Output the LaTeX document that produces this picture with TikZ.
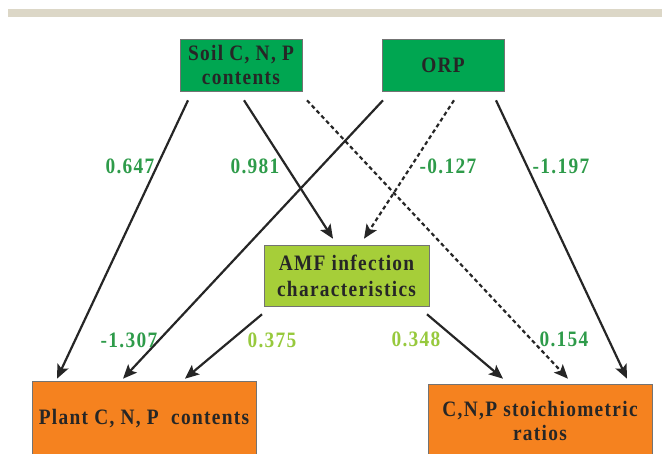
\documentclass[tikz,border=0pt]{standalone}
\usepackage{fontspec}
\newfontfamily\diagfont{Liberation Serif}[FakeStretch=0.88, LetterSpace=6]
\usetikzlibrary{arrows.meta,calc}
\definecolor{rulegray}{HTML}{DCD7C7}
\definecolor{boxgreen}{HTML}{00A651}
\definecolor{boxlime}{HTML}{A6CE39}
\definecolor{boxorange}{HTML}{F5821F}
\definecolor{coefdark}{HTML}{2E9B4A}
\definecolor{coeflight}{HTML}{97C93D}
\tikzset{
  box/.style={draw=black!55, line width=0.6pt, text=black!85, align=center, inner sep=0pt,
    font=\diagfont\bfseries\fontsize{22}{24}\selectfont},
  arr/.style={line width=2.2pt, draw=black!85, -{Stealth[length=14pt,width=12pt,inset=3pt]}},
  arrdash/.style={arr, dash pattern=on 4pt off 3pt},
  coef/.style={font=\diagfont\bfseries\fontsize{22}{24}\selectfont}
}

\begin{document}
\begin{tikzpicture}[x=1pt,y=-1pt]
  \useasboundingbox (0,0) rectangle (662,453);
  % top rule
  \fill[rulegray] (8,9) rectangle (662,17);
  % boxes
  \node[box, fill=boxgreen, minimum width=122pt, minimum height=52pt] (soil) at (241,65) {Soil C, N, P\\contents};
  \node[box, fill=boxgreen, minimum width=122pt, minimum height=52pt] (orp) at (443,65) {ORP};
  \node[box, fill=boxlime, minimum width=165pt, minimum height=61pt] (amf) at (346.5,275.5) {AMF infection\\[2pt]characteristics};
  \node[box, fill=boxorange, minimum width=224pt, minimum height=76pt] (plant) at (144,419) {Plant C, N, P~~contents};
  \node[box, fill=boxorange, minimum width=224pt, minimum height=74pt] (ratio) at (540,421) {C,N,P stoichiometric\\ratios};
  % paths from soil
  \draw[arr] ($(soil.south)+(-53,9)$) -- ($(plant.north)+(-87,-2)$);
  \draw[arr] ($(soil.south)+(3,9)$) -- ($(amf.north)+(-13.5,-6)$);
  \draw[arrdash] ($(soil.south)+(66,9)$) -- ($(ratio.north)+(28,-5)$);
  % paths from ORP
  \draw[arr] ($(orp.south)+(-60,9)$) -- ($(plant.north)+(-21,-2)$);
  \draw[arrdash] ($(orp.south)+(11,9)$) -- ($(amf.north)+(17.5,-6)$);
  \draw[arr] ($(orp.south)+(53,9)$) -- ($(ratio.north)+(87,-5)$);
  % paths from AMF
  \draw[arr] ($(amf.south)+(-84.5,8)$) -- ($(plant.north)+(41,-2)$);
  \draw[arr] ($(amf.south)+(80.5,8)$) -- ($(ratio.north)+(-37,-5)$);
  % coefficients
  \node[coef, text=coefdark] (c1) at (130,166) {0.647};
  \node[coef, text=coefdark] (c2) at (255,166) {0.981};
  \node[coef, text=coefdark] (c3) at (448,166) {-0.127};
  \node[coef, text=coefdark] (c4) at (561,166) {-1.197};
  \node[coef, text=coefdark] (c5) at (129,340) {-1.307};
  \node[coef, text=coeflight] (c6) at (272,340) {0.375};
  \node[coef, text=coeflight] (c7) at (416,339) {0.348};
  \node[coef, text=coefdark] (c8) at (564,339) {0.154};
\end{tikzpicture}
\end{document}
